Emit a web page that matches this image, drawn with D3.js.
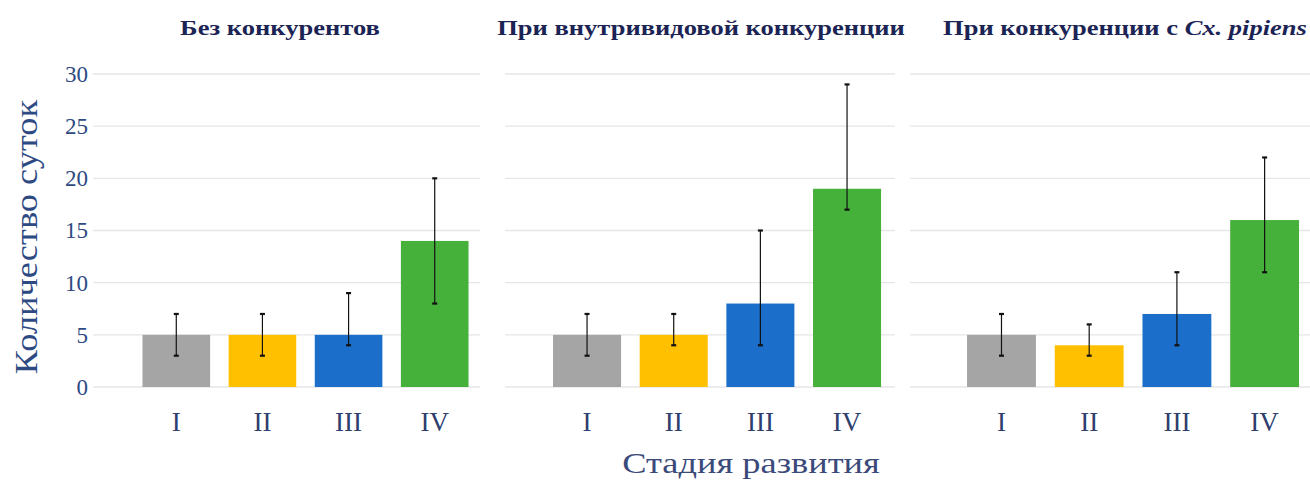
<!DOCTYPE html>
<html>
<head>
<meta charset="utf-8">
<script src="https://cdn.jsdelivr.net/npm/d3@7"></script>
<style>
  html, body { margin: 0; padding: 0; background: #fff; }
  svg { display: block; }
</style>
</head>
<body>
<svg id="chart" width="1310" height="482"></svg>
<script>
// Development stages (x categories)
const stages = ["I", "II", "III", "IV"];
const stageColors = ["#a5a5a5", "#ffc000", "#1b6fca", "#45b03a"];

// Panel titles
const panelTitles = [
  "Без конкурентов",
  "При внутривидовой конкуренции",
  "При конкуренции с"
];

// Mean duration (days) per stage, one array per condition
const noCompetition = [5, 5, 5, 14];
const intraspecific = [5, 5, 8, 19];
const withPipiens = [5, 4, 7, 16];

// Error-bar ranges (min / max days)
const noCompetitionLow = [3, 3, 4, 8];
const noCompetitionHigh = [7, 7, 9, 20];
const intraspecificLow = [3, 4, 4, 17];
const intraspecificHigh = [7, 7, 15, 29];
const withPipiensLow = [3, 3, 4, 11];
const withPipiensHigh = [7, 6, 11, 22];

const yTicks = [0, 5, 10, 15, 20, 25, 30];

const panels = [
  { title: panelTitles[0], values: noCompetition, low: noCompetitionLow, high: noCompetitionHigh,
    x0: 93, x1: 478, gx0: 93, gx1: 480, tx: 280, tw: 200 },
  { title: panelTitles[1], values: intraspecific, low: intraspecificLow, high: intraspecificHigh,
    x0: 503.5, x1: 890.6, gx0: 505, gx1: 895, tx: 701, tw: 408 },
  { title: panelTitles[2], values: withPipiens, low: withPipiensLow, high: withPipiensHigh,
    x0: 917.4, x1: 1308.7, gx0: 910, gx1: 1310, tx: 1125, tw: 364 }
];

const svg = d3.select("#chart");
const serif = "'Liberation Serif', 'Times New Roman', serif";

// Stretch a text element horizontally (in its own frame) to a target width,
// keeping the anchor point fixed.
function fitWidth(sel, width, ax, ay, rot) {
  const node = sel.node();
  const w = node.getBBox().width;
  const k = width / w;
  const base = rot ? `translate(${ax},${ay}) rotate(${rot})` : `translate(${ax},${ay})`;
  sel.attr("transform", `${base} scale(${k},1)`);
}

const y = d3.scaleLinear().domain([0, 30]).range([387, 74]);

panels.forEach((p, pi) => {
  const g = svg.append("g");

  // horizontal gridlines
  g.selectAll("line.grid")
    .data(yTicks)
    .join("line")
    .attr("x1", p.gx0)
    .attr("x2", p.gx1)
    .attr("y1", d => y(d))
    .attr("y2", d => y(d))
    .attr("stroke", "#e6e6e6")
    .attr("stroke-width", 1.3);

  const x = d3.scaleBand()
    .domain(stages)
    .range([p.x0 + 40, p.x1])
    .paddingInner(0.215)
    .paddingOuter(0.11);

  // bars
  g.selectAll("rect.bar")
    .data(p.values)
    .join("rect")
    .attr("x", (d, i) => x(stages[i]))
    .attr("width", x.bandwidth())
    .attr("y", d => y(d))
    .attr("height", d => y(0) - y(d))
    .attr("fill", (d, i) => stageColors[i]);

  // error bars
  const eb = g.selectAll("g.err")
    .data(stages)
    .join("g")
    .attr("transform", s => `translate(${x(s) + x.bandwidth() / 2},0)`);
  eb.append("line")
    .attr("y1", (s, i) => y(p.low[i]))
    .attr("y2", (s, i) => y(p.high[i]))
    .attr("stroke", "#111")
    .attr("stroke-width", 1.2);
  eb.append("line")
    .attr("x1", -2.5).attr("x2", 2.5)
    .attr("y1", (s, i) => y(p.low[i]))
    .attr("y2", (s, i) => y(p.low[i]))
    .attr("stroke", "#111").attr("stroke-width", 2.2);
  eb.append("line")
    .attr("x1", -2.5).attr("x2", 2.5)
    .attr("y1", (s, i) => y(p.high[i]))
    .attr("y2", (s, i) => y(p.high[i]))
    .attr("stroke", "#111").attr("stroke-width", 2.2);

  // x category labels
  const xAxis = d3.axisBottom(x).tickSize(0).tickPadding(0);
  const xg = g.append("g")
    .attr("transform", `translate(0,${y(0) + 44})`)
    .call(xAxis);
  xg.select(".domain").remove();
  xg.selectAll("text")
    .attr("dy", 0)
    .attr("font-family", serif)
    .attr("font-size", 27)
    .attr("fill", "#2e3e6e");

  // panel title
  const t = svg.append("text")
    .attr("x", 0)
    .attr("y", 0)
    .attr("text-anchor", "middle")
    .attr("font-family", serif)
    .attr("font-weight", "bold")
    .attr("font-size", 22)
    .attr("fill", "#1b2454")
    .text(p.title);
  if (pi === 2) {
    t.append("tspan").text(" ");
    t.append("tspan").attr("font-style", "italic").text("Cx. pipiens");
  }
  fitWidth(t, p.tw, p.tx, 35);
});

// y axis tick labels (left panel only)
const yAxis = d3.axisLeft(y).tickValues(yTicks).tickSize(0).tickPadding(0);
const yg = svg.append("g")
  .attr("transform", "translate(88,0)")
  .call(yAxis);
yg.select(".domain").remove();
yg.selectAll("text")
  .attr("font-family", serif)
  .attr("font-size", 23)
  .attr("fill", "#2e4a82");

// axis titles
const yTitle = svg.append("text")
  .attr("text-anchor", "middle")
  .attr("font-family", serif)
  .attr("font-size", 32)
  .attr("fill", "#2e4a82")
  .text("Количество суток");
fitWidth(yTitle, 275, 37, 237, -90);

const xTitle = svg.append("text")
  .attr("text-anchor", "middle")
  .attr("font-family", serif)
  .attr("font-size", 30)
  .attr("fill", "#3a4a7a")
  .text("Стадия развития");
fitWidth(xTitle, 258, 751, 473);
</script>
</body>
</html>
